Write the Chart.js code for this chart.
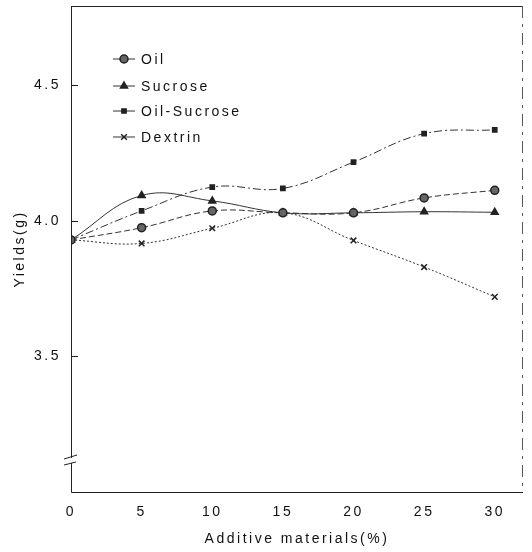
<!DOCTYPE html>
<html>
<head>
<meta charset="utf-8">
<script src="https://cdn.jsdelivr.net/npm/chart.js@4"></script>
<style>
  body { margin: 0; background: #fff; }
  canvas { display: block; }
</style>
</head>
<body>
<canvas id="yieldChart" width="532" height="552"></canvas>
<script>
// values
const additive = [0, 5, 10, 15, 20, 25, 30];
const oil = [3.93, 3.975, 4.037, 4.03, 4.03, 4.085, 4.113];
const sucrose = [3.93, 4.094, 4.074, 4.03, 4.03, 4.034, 4.032];
const oilSucrose = [3.93, 4.037, 4.125, 4.12, 4.217, 4.322, 4.336];
const dextrin = [3.93, 3.917, 3.973, 4.03, 3.928, 3.83, 3.72];
const yTicks = [3.5, 4.0, 4.5];
const xTicks = [0, 5, 10, 15, 20, 25, 30];

const FONT = "'Liberation Sans', Arial, sans-serif";
const ink = '#222';

function pts(ys) {
    return additive.map((x, i) => ({ x: x, y: ys[i] }));
}

function series(label, ys, style, radius, fill, dash) {
    return {
        label: label,
        data: pts(ys),
        borderColor: '#333',
        borderWidth: 1,
        borderDash: dash,
        tension: 0.4,
        pointStyle: style,
        pointRadius: radius,
        pointBackgroundColor: fill,
        pointBorderColor: ink,
        pointBorderWidth: 1.5,
        fill: false
    };
}

const spacing = {
    id: 'spacing',
    beforeUpdate(chart) { chart.ctx.letterSpacing = '2.5px'; },
    beforeDraw(chart) { chart.ctx.letterSpacing = '2.5px'; }
};

const decor = {
    id: 'decor',
    afterDraw(chart) {
        const ctx = chart.ctx;
        const a = chart.chartArea;
        const ys = chart.scales.y;
        ctx.save();
        ctx.strokeStyle = ink;
        ctx.lineWidth = 1;

        // frame
        const breakTop = 458, breakBot = 463;
        ctx.beginPath();
        ctx.moveTo(a.left + 0.5, a.top);
        ctx.lineTo(a.left + 0.5, breakTop);
        ctx.moveTo(a.left + 0.5, breakBot);
        ctx.lineTo(a.left + 0.5, a.bottom + 0.5);
        ctx.lineTo(a.right, a.bottom + 0.5);
        ctx.moveTo(a.left, a.top + 0.5);
        ctx.lineTo(a.right, a.top + 0.5);
        ctx.stroke();

        ctx.strokeStyle = '#555';
        ctx.setLineDash([12, 6, 3, 6]);
        ctx.beginPath();
        ctx.moveTo(a.right - 0.5, a.top);
        ctx.lineTo(a.right - 0.5, a.bottom);
        ctx.stroke();
        ctx.setLineDash([]);

        // axis break
        ctx.strokeStyle = ink;
        ctx.beginPath();
        ctx.moveTo(a.left - 7, breakTop + 1);
        ctx.lineTo(a.left + 6, breakTop - 3);
        ctx.moveTo(a.left - 7, breakBot + 2);
        ctx.lineTo(a.left + 5, breakBot - 1);
        ctx.stroke();

        // inner y ticks
        ctx.beginPath();
        yTicks.forEach(v => {
            const py = Math.round(ys.getPixelForValue(v)) + 0.5;
            ctx.moveTo(a.left, py);
            ctx.lineTo(a.left + 7, py);
        });
        ctx.stroke();

        // legend inside plot
        ctx.font = '14px ' + FONT;
        ctx.fillStyle = '#111';
        ctx.textBaseline = 'middle';
        const rows = [59, 86, 111, 137];
        chart.data.datasets.forEach((ds, i) => {
            const y = rows[i];
            ctx.strokeStyle = '#333';
            ctx.lineWidth = 1;
            ctx.setLineDash([]);
            ctx.beginPath();
            ctx.moveTo(113, y);
            ctx.lineTo(135, y);
            ctx.stroke();
            ctx.fillStyle = ds.pointBackgroundColor;
            ctx.strokeStyle = ink;
            ctx.lineWidth = 1.5;
            Chart.helpers.drawPoint(ctx, {
                pointStyle: ds.pointStyle,
                radius: ds.pointRadius,
                borderWidth: 1.5,
                rotation: 0
            }, 124, y);
            ctx.fillStyle = '#111';
            ctx.fillText(ds.label, 141, y + 1);
        });
        ctx.restore();
    }
};

const ctx = document.getElementById('yieldChart').getContext('2d');
const yieldChart = new Chart(ctx, {
    type: 'line',
    data: {
        datasets: [
            series('Oil', oil, 'circle', 4, '#666', [6, 3]),
            series('Sucrose', sucrose, 'triangle', 4, ink, []),
            series('Oil-Sucrose', oilSucrose, 'rect', 3, ink, [8, 3, 2, 3]),
            series('Dextrin', dextrin, 'crossRot', 4, ink, [2, 2])
        ]
    },
    options: {
        responsive: false,
        animation: false,
        devicePixelRatio: 1,
        layout: { padding: { top: 6, right: 9, left: 0, bottom: 0 } },
        plugins: {
            legend: { display: false },
            tooltip: { enabled: false }
        },
        scales: {
            x: {
                type: 'linear',
                min: 0,
                max: 32,
                afterBuildTicks: s => { s.ticks = xTicks.map(v => ({ value: v })); },
                afterFit: s => { s.height = 60; s.paddingLeft = 0; s.paddingRight = 0; },
                grid: { display: false, drawTicks: false },
                border: { display: false },
                ticks: {
                    padding: 12,
                    color: '#111',
                    font: { family: FONT, size: 14 },
                    maxRotation: 0
                },
                title: {
                    display: true,
                    text: 'Additive materials(%)',
                    color: '#111',
                    font: { family: FONT, size: 14 },
                    padding: { top: 0, bottom: 4 }
                }
            },
            y: {
                min: 3.0,
                max: 4.793,
                afterBuildTicks: s => { s.ticks = yTicks.map(v => ({ value: v })); },
                afterFit: s => { s.width = 71; s.paddingTop = 0; s.paddingBottom = 0; },
                grid: { display: false, drawTicks: false },
                border: { display: false },
                ticks: {
                    padding: 10,
                    color: '#111',
                    font: { family: FONT, size: 14 },
                    callback: v => v.toFixed(1)
                },
                title: {
                    display: true,
                    text: 'Yields(g)',
                    color: '#111',
                    font: { family: FONT, size: 14 },
                    padding: { top: 12, bottom: 0 }
                }
            }
        }
    },
    plugins: [spacing, decor]
});
</script>
</body>
</html>
